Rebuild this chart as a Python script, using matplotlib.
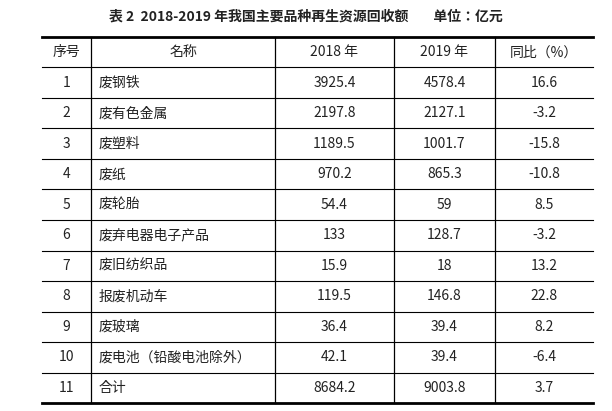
import matplotlib
matplotlib.use('Agg')
import matplotlib.pyplot as plt

plt.rcParams['font.family'] = ['Noto Sans CJK SC', 'Noto Sans CJK JP', 'Noto Sans CJK TC', 'DejaVu Sans']

title = '表 2  2018-2019 年我国主要品种再生资源回收额        单位：亿元'
headers = ['序号', '名称', '2018 年', '2019 年', '同比（%）']
ids = ['1', '2', '3', '4', '5', '6', '7', '8', '9', '10', '11']
names = ['废钢铁', '废有色金属', '废塑料', '废纸', '废轮胎', '废弃电器电子产品',
         '废旧纺织品', '报废机动车', '废玻璃', '废电池（铅酸电池除外）', '合计']
v2018 = ['3925.4', '2197.8', '1189.5', '970.2', '54.4', '133',
         '15.9', '119.5', '36.4', '42.1', '8684.2']
v2019 = ['4578.4', '2127.1', '1001.7', '865.3', '59', '128.7',
         '18', '146.8', '39.4', '39.4', '9003.8']
yoy = ['16.6', '-3.2', '-15.8', '-10.8', '8.5', '-3.2',
       '13.2', '22.8', '8.2', '-6.4', '3.7']

W, H = 612, 411
fig = plt.figure(figsize=(W / 100, H / 100), dpi=100)
ax = fig.add_axes([0, 0, 1, 1])
ax.set_xlim(0, W)
ax.set_ylim(H, 0)
ax.axis('off')

cols = [42, 91, 275, 394, 495, 593]
top, bottom = 37, 403
nrows = len(ids) + 1
rh = (bottom - top) / nrows
ink = '#222222'

ax.text(W / 2, 17, title, ha='center', va='center', fontsize=10, fontweight='bold', color=ink)

# horizontal rules
ax.plot([cols[0], cols[-1]], [top, top], color='black', lw=2)
ax.plot([cols[0], cols[-1]], [bottom, bottom], color='black', lw=2)
for i in range(1, nrows):
    y = top + i * rh
    ax.plot([cols[0], cols[-1]], [y, y], color='black', lw=0.8)
for x in cols[1:-1]:
    ax.plot([x, x], [top, bottom], color='black', lw=0.9)

rows = [headers] + [list(r) for r in zip(ids, names, v2018, v2019, yoy)]
for i, row in enumerate(rows):
    yc = top + (i + 0.5) * rh
    for j, txt in enumerate(row):
        if j == 1 and i > 0:
            ax.text(cols[1] + 8, yc, txt, ha='left', va='center', fontsize=10, color=ink)
        else:
            ax.text((cols[j] + cols[j + 1]) / 2, yc, txt, ha='center', va='center',
                    fontsize=10, color=ink)

fig.savefig('out.png', dpi=100)
